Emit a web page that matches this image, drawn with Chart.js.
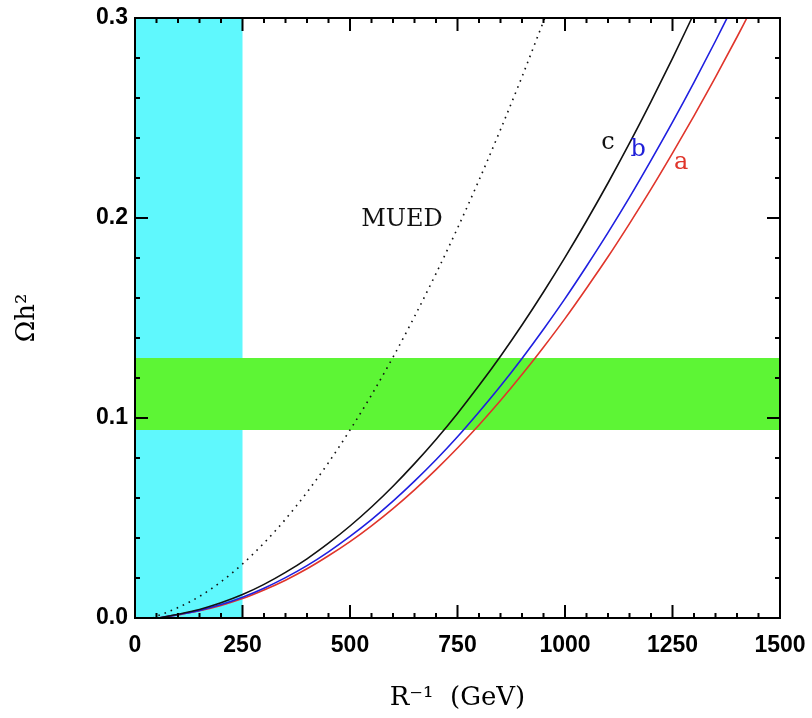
<!DOCTYPE html>
<html>
<head>
<meta charset="utf-8">
<script src="https://cdn.jsdelivr.net/npm/chart.js@4"></script>
<style>
  body { margin: 0; background: #fff; }
  canvas { display: block; }
</style>
</head>
<body>
<canvas id="myChart" width="812" height="718"></canvas>
<script>
// R^-1 (GeV) and Omega h^2
const muedX = [40, 100, 150, 200, 250, 300, 350, 400, 450, 500, 550, 600, 650, 700, 750, 800, 850, 900, 953];
const muedY = [0, 0.0052, 0.0108, 0.0181, 0.027, 0.0375, 0.0494, 0.0629, 0.0777, 0.094, 0.1115, 0.1304, 0.1507, 0.1722, 0.1949, 0.2189, 0.2442, 0.2706, 0.3];

const cX = [55, 100, 150, 200, 250, 300, 350, 400, 450, 500, 550, 600, 650, 700, 750, 800, 850, 900, 950, 1000, 1050, 1100, 1150, 1200, 1250, 1295];
const cY = [0, 0.0019, 0.0043, 0.0076, 0.0117, 0.0168, 0.0228, 0.0296, 0.0374, 0.046, 0.0555, 0.0659, 0.0772, 0.0893, 0.1023, 0.1162, 0.1309, 0.1465, 0.163, 0.1803, 0.1985, 0.2175, 0.2374, 0.2582, 0.2798, 0.3];

const bX = [55, 100, 150, 200, 250, 300, 350, 400, 450, 500, 550, 600, 650, 700, 750, 800, 850, 900, 950, 1000, 1050, 1100, 1150, 1200, 1250, 1300, 1350, 1377];
const bY = [0, 0.0017, 0.0038, 0.0067, 0.0104, 0.0149, 0.0202, 0.0262, 0.0331, 0.0408, 0.0492, 0.0584, 0.0684, 0.0791, 0.0906, 0.103, 0.116, 0.1298, 0.1444, 0.1597, 0.1759, 0.1927, 0.2103, 0.2288, 0.2479, 0.2678, 0.2885, 0.3];

const aX = [55, 100, 150, 200, 250, 300, 350, 400, 450, 500, 550, 600, 650, 700, 750, 800, 850, 900, 950, 1000, 1050, 1100, 1150, 1200, 1250, 1300, 1350, 1400, 1423];
const aY = [0, 0.0016, 0.0036, 0.0063, 0.0097, 0.014, 0.0189, 0.0246, 0.0311, 0.0382, 0.0461, 0.0547, 0.0641, 0.0742, 0.085, 0.0965, 0.1087, 0.1217, 0.1354, 0.1497, 0.1649, 0.1806, 0.1972, 0.2144, 0.2324, 0.2511, 0.2704, 0.2905, 0.3];

// shaded regions
const excludedR = [0, 250];        // cyan
const wmapBand = [0.094, 0.13];    // green

// text labels in data coordinates
const labelTexts = ['MUED', 'c', 'b', 'a'];
const labelX = [621, 1100, 1170, 1270];
const labelY = [0.199, 0.2375, 0.234, 0.2275];
const labelColors = ['#111', '#111', '#1f1fd8', '#e0352b'];

const xMajor = 250, xMinor = 50;
const yMajor = 0.1, yMinor = 0.02;

function toPoints(xs, ys) {
  return xs.map((x, i) => ({ x: x, y: ys[i] }));
}

const bandsPlugin = {
  id: 'bands',
  beforeDatasetsDraw(chart) {
    const { ctx, chartArea, scales: { x, y } } = chart;
    ctx.save();
    ctx.fillStyle = '#5ff8fd';
    const x0 = x.getPixelForValue(excludedR[0]);
    const x1 = x.getPixelForValue(excludedR[1]);
    ctx.fillRect(x0, chartArea.top, x1 - x0, chartArea.bottom - chartArea.top);
    ctx.fillStyle = '#5df535';
    const y0 = y.getPixelForValue(wmapBand[1]);
    const y1 = y.getPixelForValue(wmapBand[0]);
    ctx.fillRect(chartArea.left, y0, chartArea.right - chartArea.left, y1 - y0);
    ctx.restore();
  }
};

const frameAndTicksPlugin = {
  id: 'frameTicks',
  afterDatasetsDraw(chart) {
    const { ctx, chartArea, scales: { x, y } } = chart;
    const { left, right, top, bottom } = chartArea;
    ctx.save();
    ctx.strokeStyle = '#000';
    ctx.lineWidth = 2;
    ctx.beginPath();
    for (let v = x.min; v <= x.max + 1e-6; v += xMinor) {
      const px = x.getPixelForValue(v);
      const len = (Math.round(v) % xMajor === 0) ? 13 : 5;
      ctx.moveTo(px, bottom); ctx.lineTo(px, bottom - len);
      ctx.moveTo(px, top); ctx.lineTo(px, top + len);
    }
    for (let i = 0; i <= Math.round((y.max - y.min) / yMinor); i++) {
      const v = y.min + i * yMinor;
      const py = y.getPixelForValue(v);
      const len = (i % Math.round(yMajor / yMinor) === 0) ? 13 : 5;
      ctx.moveTo(left, py); ctx.lineTo(left + len, py);
      ctx.moveTo(right, py); ctx.lineTo(right - len, py);
    }
    ctx.stroke();
    ctx.strokeRect(left, top, right - left, bottom - top);

    ctx.textAlign = 'center';
    ctx.textBaseline = 'middle';
    labelTexts.forEach((t, i) => {
      ctx.fillStyle = labelColors[i];
      ctx.font = '24px "DejaVu Serif"';
      ctx.fillText(t, x.getPixelForValue(labelX[i]), y.getPixelForValue(labelY[i]));
    });
    ctx.restore();
  }
};

const lineStyle = { fill: false, pointRadius: 0, cubicInterpolationMode: 'monotone', borderWidth: 1.6, showLine: true };

new Chart(document.getElementById('myChart'), {
  type: 'scatter',
  data: {
    datasets: [
      Object.assign({ label: 'MUED', data: toPoints(muedX, muedY), borderColor: '#111', borderDash: [1.6, 5] }, lineStyle),
      Object.assign({ label: 'c', data: toPoints(cX, cY), borderColor: '#111' }, lineStyle),
      Object.assign({ label: 'b', data: toPoints(bX, bY), borderColor: '#1f1fe0' }, lineStyle),
      Object.assign({ label: 'a', data: toPoints(aX, aY), borderColor: '#e0352b' }, lineStyle)
    ]
  },
  options: {
    responsive: false,
    animation: false,
    devicePixelRatio: 1,
    layout: { padding: { top: 18, right: 32, left: 0, bottom: 0 } },
    plugins: { legend: { display: false }, tooltip: { enabled: false } },
    scales: {
      x: {
        type: 'linear',
        min: 0,
        max: 1500,
        grid: { display: false, drawTicks: false },
        border: { display: false },
        ticks: {
          stepSize: xMajor,
          padding: 14,
          color: '#000',
          font: { family: '"Liberation Sans"', size: 23, weight: 'bold' },
          maxRotation: 0,
          callback: v => String(v)
        },
        title: {
          display: true,
          text: 'R\u207B\u00B9  (GeV)',
          color: '#000',
          font: { family: '"DejaVu Serif"', size: 26 },
          padding: { top: 8 }
        },
        afterFit(scale) {
          scale.height = 100;
          scale.paddingLeft = 0;
          scale.paddingRight = 0;
        }
      },
      y: {
        min: 0,
        max: 0.3,
        grid: { display: false, drawTicks: false },
        border: { display: false },
        ticks: {
          stepSize: yMajor,
          padding: 7,
          color: '#000',
          font: { family: '"Liberation Sans"', size: 23, weight: 'bold' },
          callback: v => Number(v).toFixed(1)
        },
        title: {
          display: true,
          text: '\u03A9h\u00B2',
          color: '#000',
          font: { family: '"DejaVu Serif"', size: 26 },
          padding: { top: 12, bottom: 0 }
        },
        afterFit(scale) {
          scale.width = 135;
          scale.paddingTop = 0;
          scale.paddingBottom = 0;
        }
      }
    }
  },
  plugins: [bandsPlugin, frameAndTicksPlugin]
});
</script>
</body>
</html>
